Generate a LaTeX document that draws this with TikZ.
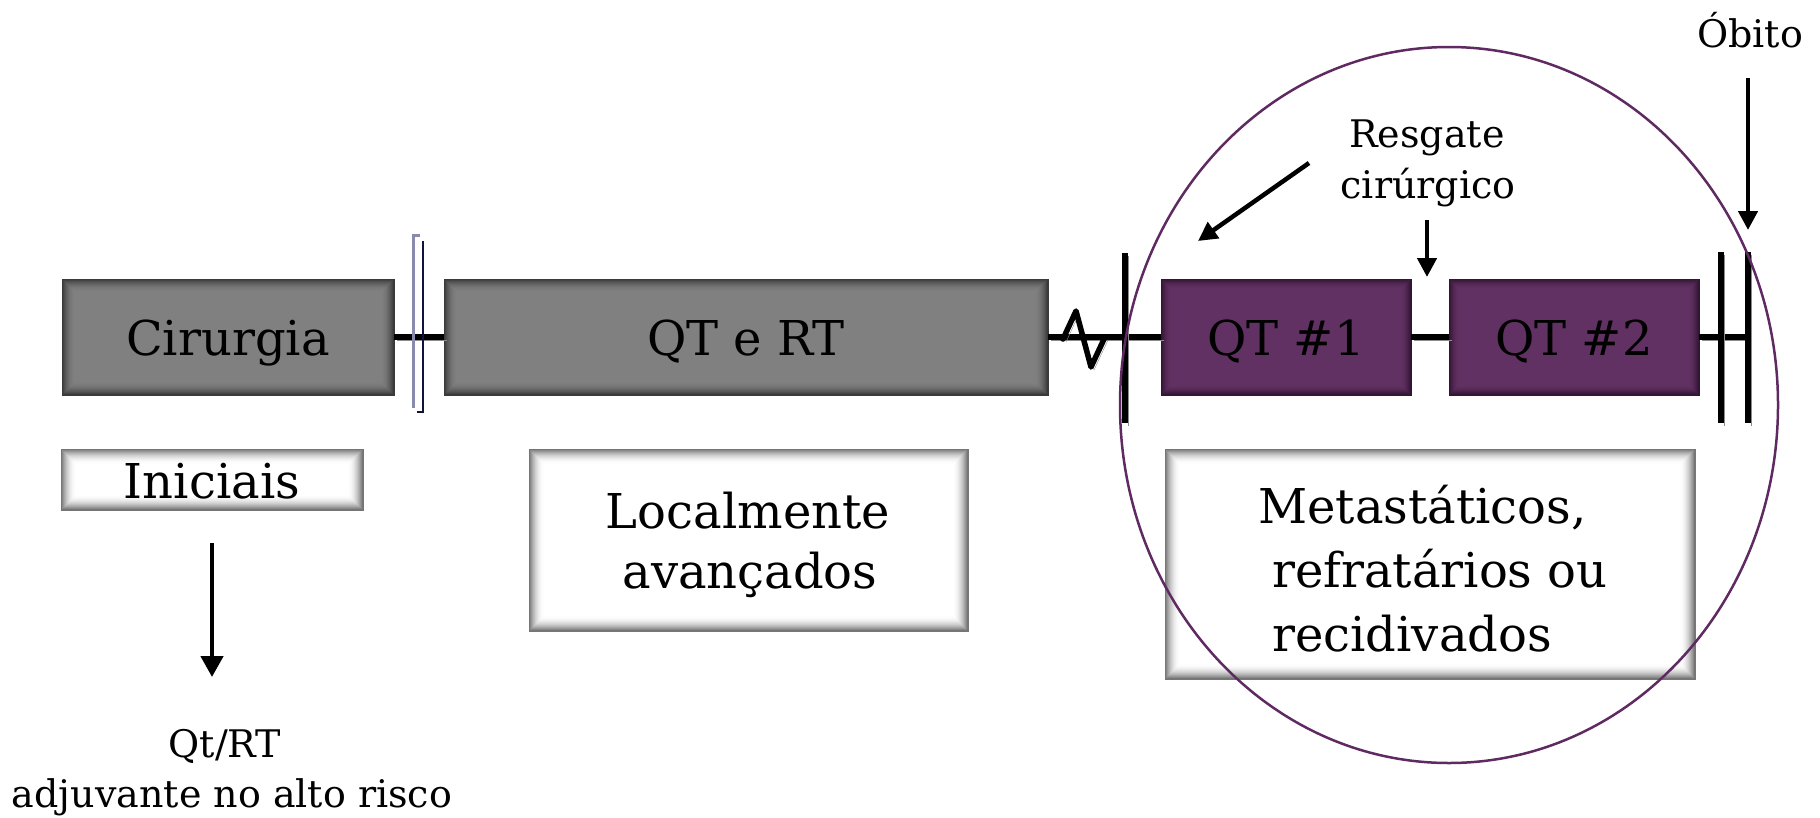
\documentclass[tikz,border=0pt]{standalone}
\usepackage{fontspec}
\setmainfont{DejaVu Serif}
\usetikzlibrary{arrows.meta}
\definecolor{grayC}{HTML}{808080}
\definecolor{grayE}{HTML}{3A3A3A}
\definecolor{purC}{HTML}{623163}
\definecolor{purE}{HTML}{331535}
\definecolor{whiteE}{HTML}{767676}
\definecolor{ringC}{HTML}{5E2A61}
\definecolor{brLight}{HTML}{8A8AAE}
\definecolor{brDark}{HTML}{12123A}
\begin{document}
\begin{tikzpicture}[x=1pt,y=-1pt,
  inshadow/.style n args={3}{fill=#2, draw=#1, line width=0.8pt, inner sep=0pt,
    path picture={\foreach \i in {0,...,#3}{\pgfmathsetmacro\p{100*(1-(1-\i/#3)^2)}
      \fill[#2!\p!#1] ([shift={(\i*1pt,-\i*1pt)}]path picture bounding box.north west) rectangle ([shift={(-\i*1pt,\i*1pt)}]path picture bounding box.south east);}}},
  bigfont/.style={font=\fontsize{48}{58}\selectfont},
  smallfont/.style={font=\fontsize{38}{46}\selectfont},
  graybox/.style={inshadow={grayE}{grayC}{13}, bigfont, text height=37pt, text depth=0pt},
  purbox/.style={inshadow={purE}{purC}{11}, bigfont, text height=37pt, text depth=0pt},
  whitebox/.style={inshadow={whiteE}{white}{15}, bigfont, text height=37pt, text depth=0pt},
  bigtxt/.style={bigfont, inner sep=0pt},
  smalltxt/.style={smallfont, inner sep=0pt},
  lshadow/.style={preaction={draw=black!45, transform canvas={shift={(3pt,-3pt)}}}},
  conn/.style={line width=5.5pt, black, lshadow},
  barline/.style={line width=5.5pt, black, lshadow},
  arr/.style={line width=4.5pt, black, -{Triangle[width=19pt,length=19pt]}},
  ring/.style={ringC, line width=2.5pt},
]
\useasboundingbox (0,0) rectangle (1820,817);

% boxes
\node[graybox, minimum width=332pt, minimum height=116pt] (cir) at (228,337) {Cirurgia};
\node[graybox, minimum width=604pt, minimum height=116pt] (qtrt) at (746,337) {QT e RT};
\node[purbox, minimum width=250pt, minimum height=116pt] (qt1) at (1286,337) {QT \#1};
\node[purbox, minimum width=250pt, minimum height=116pt] (qt2) at (1574,337) {QT \#2};
\node[whitebox, minimum width=302pt, minimum height=61pt] (ini) at (212,479.5) {Iniciais};
\node[whitebox, minimum width=439pt, minimum height=182pt] (loc) at (748.5,540) {};
\node[whitebox, minimum width=530pt, minimum height=230pt] (met) at (1430,564) {};

% connectors on the timeline
\coordinate (endbar) at (1748,337);
\draw[conn] (cir.east) -- (qtrt.west);
\draw[conn] (qtrt.east) -- (qt1.west);
\draw[conn] (qt1.east) -- (qt2.west);
\draw[conn] (qt2.east) -- (endbar);
% zigzag break
\draw[conn, line join=round, line cap=round] (1063,339) -- (1076,311) -- (1091,367) -- (1105,337);

% vertical bars
\draw[barline] (1125,253) -- (1125,423);
\draw[barline] (1721,252) -- (1721,423);
\draw[barline] (1748,252) -- (1748,423);

% double bracket
\draw[brLight, line width=3pt] (420,235) -- (413,235) -- (413,408);
\draw[brDark, line width=2.5pt] (423,241) -- (423,412) -- (417,412);

% texts
\node[bigtxt, anchor=base] (loc1) at (748,528) {Localmente};
\node[bigtxt, anchor=base] (loc2) at (750,588) {avançados};
\node[bigtxt, anchor=base west] (met1) at (1258,523) {Metastáticos,};
\node[bigtxt, anchor=base west] (met2) at (1272,587) {refratários ou};
\node[bigtxt, anchor=base west] (met3) at (1272,651) {recidivados};
\node[smalltxt, anchor=base] (res1) at (1427,147) {Resgate};
\node[smalltxt, anchor=base] (res2) at (1428,198) {cirúrgico};
\node[smalltxt, anchor=base] (obito) at (1750,47) {Óbito};
\node[smalltxt, anchor=base] (adj1) at (225,757) {Qt/RT};
\node[smalltxt, anchor=base] (adj2) at (232,807) {adjuvante no alto risco};

% arrows
\coordinate (iniTip) at (212,677);
\draw[arr, -{Triangle[width=22pt,length=21pt]}] ([yshift=-33pt]ini.south) -- (iniTip);
\coordinate (diagStart) at (1309,163);
\coordinate (diagTip) at (1198,241);
\draw[arr] (diagStart) -- (diagTip);
\coordinate (vStart) at (1427,220);
\coordinate (vTip) at (1427,277);
\draw[arr] (vStart) -- (vTip);
\coordinate (obStart) at (1748,78);
\coordinate (obTip) at (1748,230);
\draw[arr] (obStart) -- (obTip);

% ring
\draw[ring] (1449,405) ellipse [x radius=329, y radius=358];
\end{tikzpicture}
\end{document}
